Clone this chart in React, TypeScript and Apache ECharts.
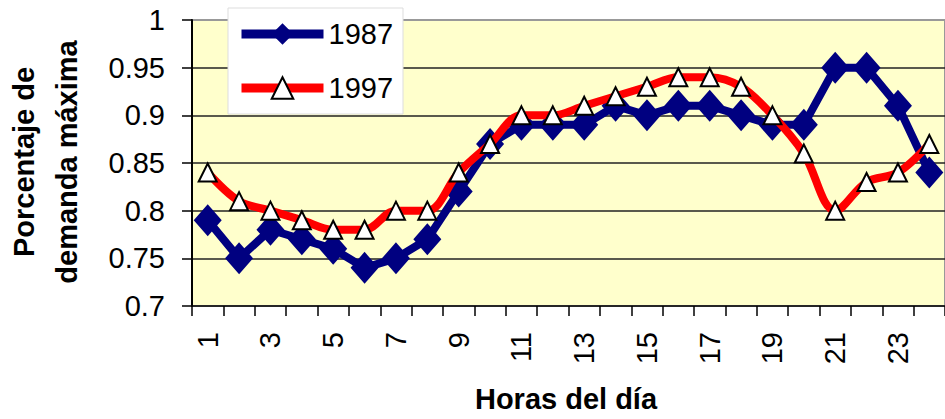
import React, { useEffect, useRef } from "react";
import * as echarts from "echarts";

const hours = ["1","2","3","4","5","6","7","8","9","10","11","12","13","14","15","16","17","18","19","20","21","22","23","24"];
const serie1987 = [0.79,0.75,0.78,0.77,0.76,0.74,0.75,0.77,0.82,0.87,0.89,0.89,0.89,0.91,0.90,0.91,0.91,0.90,0.89,0.89,0.95,0.95,0.91,0.84];
const serie1997 = [0.84,0.81,0.80,0.79,0.78,0.78,0.80,0.80,0.84,0.87,0.90,0.90,0.91,0.92,0.93,0.94,0.94,0.93,0.90,0.86,0.80,0.83,0.84,0.87];
const seriesNames = ["1987", "1997"];
const yTitle = ["Porcentaje de", "demanda máxima"];
const xTitle = "Horas del día";

const FONT = '"Liberation Sans", Arial, sans-serif';

export default function App() {
  const ref = useRef<HTMLDivElement>(null);
  useEffect(() => {
    if (!ref.current) return;
    const chart = echarts.init(ref.current, undefined, { renderer: "svg" });
    chart.setOption({
      animation: false,
      backgroundColor: "#ffffff",
      textStyle: { fontFamily: FONT },
      grid: {
        left: 192,
        top: 20,
        width: 761,
        height: 286,
        show: true,
        backgroundColor: "#FFFFCC",
        borderColor: "#999999",
        borderWidth: 2,
      },
      legend: {
        orient: "vertical",
        left: 228,
        top: 8,
        data: seriesNames,
        backgroundColor: "#ffffff",
        borderColor: "#dddddd",
        borderWidth: 1,
        borderRadius: 0,
        padding: [11, 10, 11, 9],
        itemWidth: 82,
        itemHeight: 27,
        itemGap: 24,
        lineStyle: { width: 9 },
        textStyle: { fontSize: 29, color: "#000", fontFamily: FONT, lineHeight: 30 },
      },
      xAxis: {
        type: "category",
        data: hours,
        boundaryGap: true,
        axisLine: { show: true, lineStyle: { color: "#000", width: 1.5 } },
        axisTick: { show: true, inside: false, length: 10, interval: 0, lineStyle: { color: "#000", width: 1.5 } },
        axisLabel: { interval: 1, rotate: 90, fontSize: 29, color: "#000", margin: 26, fontFamily: FONT },
        splitLine: { show: false },
      },
      yAxis: {
        type: "value",
        min: 0.7,
        max: 1,
        interval: 0.05,
        axisLine: { show: true, lineStyle: { color: "#000", width: 2 } },
        axisTick: { show: true, length: 10, lineStyle: { color: "#000", width: 1.5 } },
        axisLabel: { fontSize: 29, color: "#000", margin: 27, fontFamily: FONT },
        splitLine: { show: true, showMaxLine: false, showMinLine: false, lineStyle: { color: "#222", width: 1.5 } },
      },
      graphic: [
        {
          type: "text",
          x: 24,
          y: 162,
          rotation: Math.PI / 2,
          style: { text: yTitle[0], font: `bold 29px ${FONT}`, fill: "#000", align: "center", verticalAlign: "middle" },
        },
        {
          type: "text",
          x: 67,
          y: 162,
          rotation: Math.PI / 2,
          style: { text: yTitle[1], font: `bold 29px ${FONT}`, fill: "#000", align: "center", verticalAlign: "middle" },
        },
        {
          type: "text",
          x: 566,
          y: 399,
          style: { text: xTitle, font: `bold 29px ${FONT}`, fill: "#000", align: "center", verticalAlign: "middle" },
        },
      ],
      series: [
        {
          name: seriesNames[0],
          type: "line",
          data: serie1987,
          symbol: "diamond",
          symbolSize: [28, 32],
          showAllSymbol: true,
          lineStyle: { color: "#000080", width: 8 },
          itemStyle: { color: "#000080" },
          z: 2,
        },
        {
          name: seriesNames[1],
          type: "line",
          data: serie1997,
          smooth: 0.35,
          symbol: "triangle",
          symbolSize: 18,
          showAllSymbol: true,
          lineStyle: { color: "#FF0000", width: 8 },
          itemStyle: { color: "#ffffff", borderColor: "#000", borderWidth: 2 },
          z: 3,
        },
      ],
    });
    return () => chart.dispose();
  }, []);
  return <div ref={ref} style={{ position: "fixed", left: 0, top: 0, width: 945, height: 419 }} />;
}
